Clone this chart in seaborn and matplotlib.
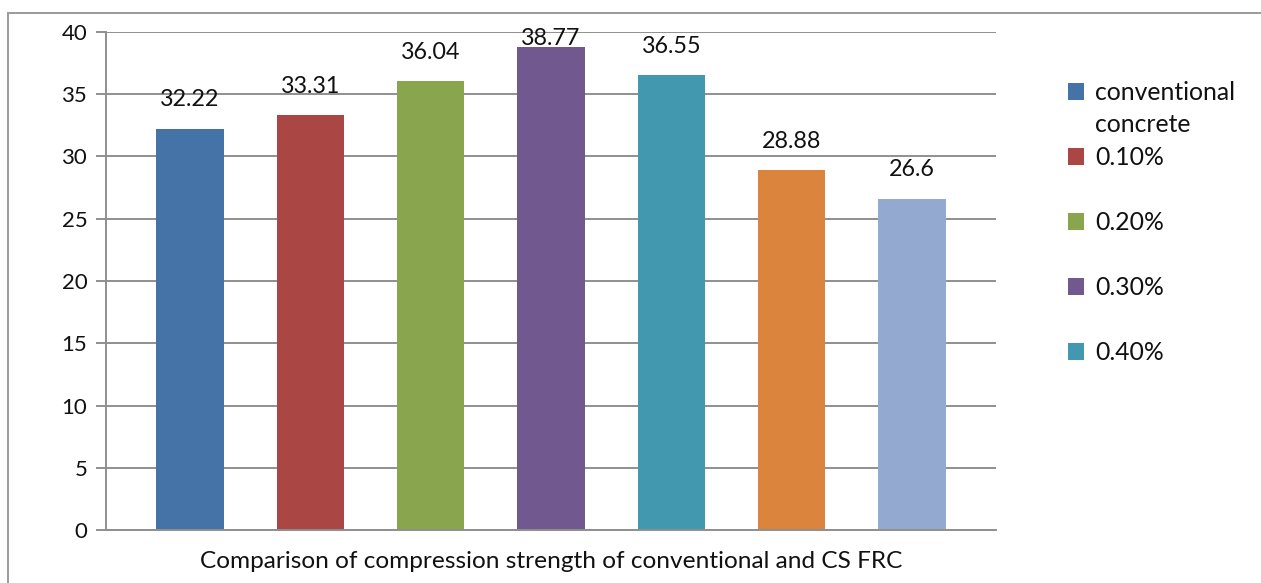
import matplotlib
matplotlib.use("Agg")
import matplotlib.pyplot as plt
import seaborn as sns
import pandas as pd
from matplotlib.patches import Patch, Rectangle

# ---- data ----
categories = ["conventional concrete", "0.10%", "0.20%", "0.30%", "0.40%", "0.50%", "0.60%"]
legend_labels = ["conventional\nconcrete", "0.10%", "0.20%", "0.30%", "0.40%"]
values = [32.22, 33.31, 36.04, 38.77, 36.55, 28.88, 26.6]
value_labels = ["32.22", "33.31", "36.04", "38.77", "36.55", "28.88", "26.6"]
colors = ["#4572A7", "#AA4643", "#89A54E", "#71588F", "#4198AF", "#DB843D", "#93A9CF"]
yticks = [0, 5, 10, 15, 20, 25, 30, 35, 40]
xlabel = "Comparison of compression strength of conventional and CS FRC"

sns.set_theme(style="white")
plt.rcParams["font.family"] = ["Lato", "DejaVu Sans"]

W, H = 1261, 583
fig = plt.figure(figsize=(W / 100, H / 100), dpi=100)
ax = fig.add_axes([106 / W, (H - 530) / H, (996 - 106) / W, (530 - 32) / H])

df = pd.DataFrame({"cat": categories, "val": values})
sns.barplot(data=df, x="cat", y="val", hue="cat", palette=colors, width=0.557,
            legend=False, ax=ax, saturation=1, linewidth=0)

grid_c = "#8f8f8f"
txt_c = "#111111"
ax.set_ylim(0, 40)
ax.set_xlim(-0.698, 6.698)
ax.set_yticks(yticks)
ax.set_yticklabels([str(t) for t in yticks], fontsize=16, color=txt_c)
ax.yaxis.grid(True, color=grid_c, linewidth=1.4)
ax.set_axisbelow(True)
ax.set_xticks([-0.698, 6.698])
ax.set_xticklabels(["", ""])
ax.tick_params(axis="x", length=8, width=1.4, color=grid_c, direction="out", pad=0)
ax.tick_params(axis="y", length=7.5, width=1.4, color=grid_c, direction="out", pad=6, left=True)
for s in ["top", "right"]:
    ax.spines[s].set_visible(False)
for s in ["left", "bottom"]:
    ax.spines[s].set_color(grid_c)
    ax.spines[s].set_linewidth(1.4)
ax.spines["left"].set_bounds(0, 40)
ax.set_xlabel(xlabel, fontsize=17.6, color=txt_c, labelpad=7)
ax.set_ylabel("")

for i, (v, lab) in enumerate(zip(values, value_labels)):
    y = min(v + 1.8, 38.95)
    ax.text(i, y, lab, ha="center", va="baseline", fontsize=16.8, color=txt_c)

handles = [Patch(facecolor=c, edgecolor="none") for c in colors[:5]]
leg = fig.legend(handles, ["conventional", "0.10%", "0.20%", "0.30%", "0.40%"],
                 loc="upper left", bbox_to_anchor=(1068 / W, 1 - 81 / H),
                 frameon=False, fontsize=17.8, handlelength=0.66, handleheight=0.66,
                 handletextpad=0.45, labelspacing=1.70, borderpad=0, borderaxespad=0)
for t in leg.get_texts():
    t.set_color(txt_c)

fig.canvas.draw()
bb = leg.get_texts()[0].get_window_extent()
fig.text(bb.x0 / W, (bb.y0 - 32) / H, legend_labels[0].split("\n")[1],
         fontsize=17.8, color=txt_c, ha="left", va="bottom")

fig.patches.append(Rectangle((8 / W, -0.2), 1.2, (H - 13) / H + 0.2,
                             transform=fig.transFigure, fill=False,
                             edgecolor="#9a9a9a", linewidth=1.4, figure=fig))

fig.savefig("out.png", dpi=100)
